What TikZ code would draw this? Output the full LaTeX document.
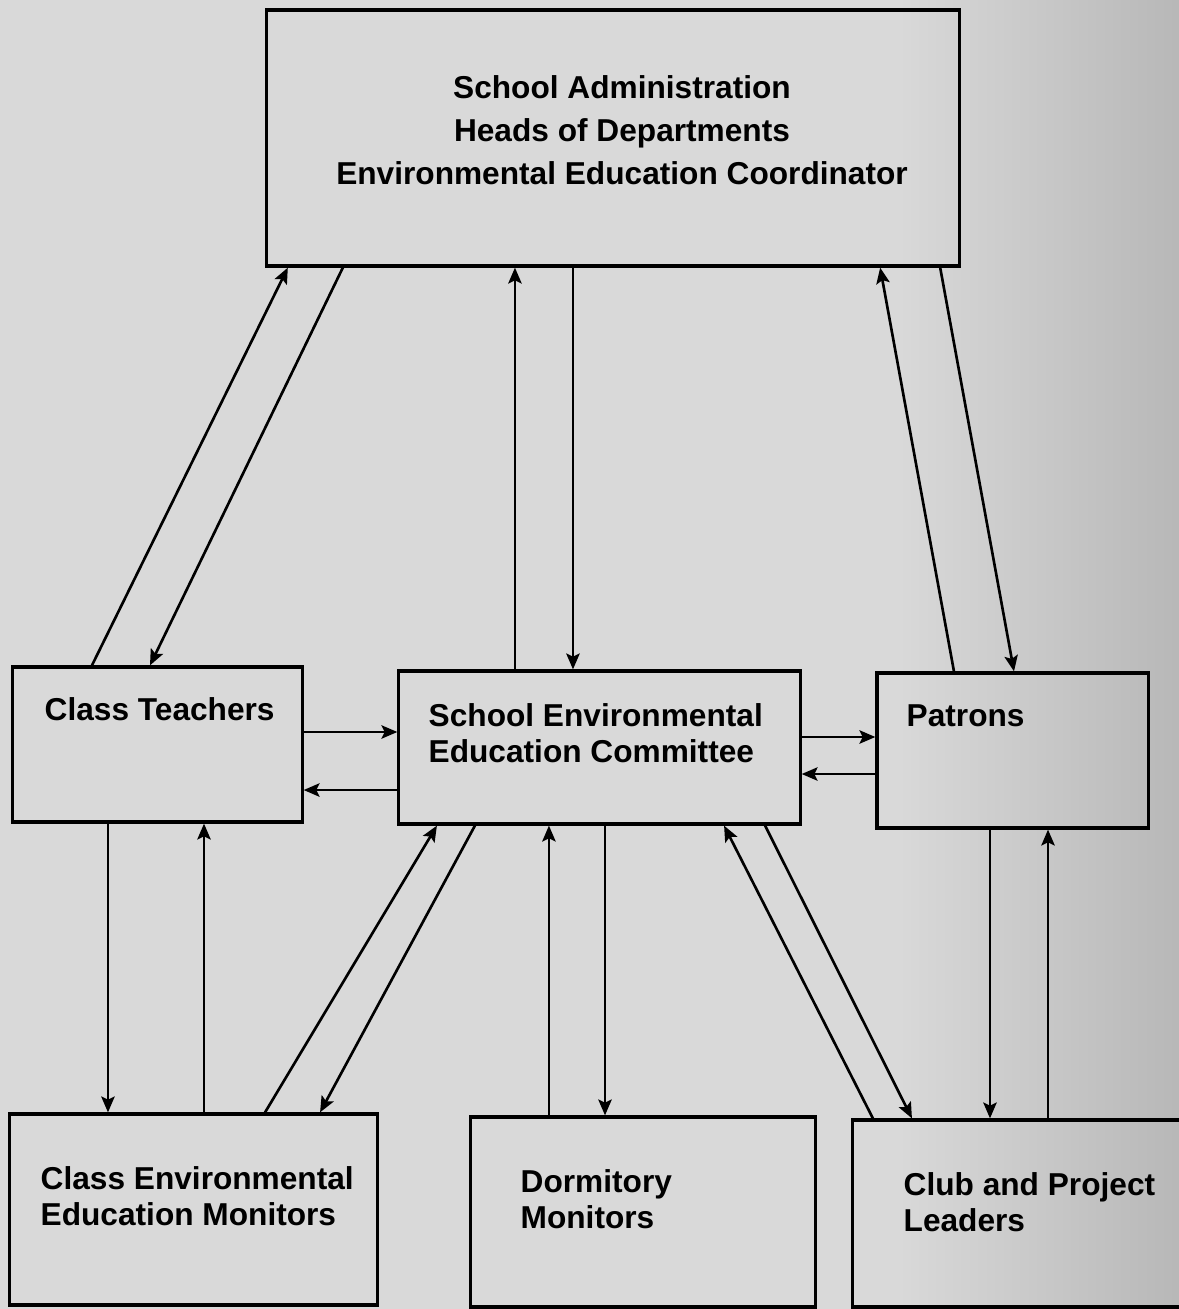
\documentclass[tikz,border=0pt]{standalone}
\usepackage{fontspec}
\setmainfont{Liberation Sans}
\usetikzlibrary{arrows.meta}
\definecolor{paper}{gray}{0.85}
\definecolor{paperdark}{gray}{0.72}
\begin{document}
\begin{tikzpicture}[
    x=0.01cm, y=-0.01cm,
    box/.style={rectangle, draw=black, line width=0.9pt, inner sep=0pt},
    txt/.style={font=\bfseries\fontsize{9}{10.4}\selectfont, inner sep=0pt, align=left, anchor=west},
    arr/.style={->, >={Stealth[length=4.5pt, width=3.8pt, inset=0.9pt]}, line width=0.75pt}
]
    \useasboundingbox (0,0) rectangle (1179,1309);
    \clip (0,0) rectangle (1179,1309);
    % Paper
    \fill[paper] (0,0) rectangle (1179,1309);
    \shade[left color=paper, right color=paperdark] (900,0) rectangle (1179,1309);

    % Boxes
    \node[box, minimum width=6.92cm, minimum height=2.56cm] (admin) at (613,138) {};
    \node[box, minimum width=2.89cm, minimum height=1.55cm] (teach) at (157.5,744.5) {};
    \node[box, minimum width=4.01cm, minimum height=1.53cm] (seec) at (599.5,747.5) {};
    \node[box, minimum width=2.71cm, minimum height=1.55cm] (patr) at (1012.5,750.5) {};
    \node[box, minimum width=3.67cm, minimum height=1.91cm] (cmon) at (193.5,1209.5) {};
    \node[box, minimum width=3.44cm, minimum height=1.90cm] (dorm) at (643,1212) {};
    \node[box, minimum width=3.47cm, minimum height=1.87cm] (club) at (1026.5,1213.5) {};

    % Texts
    \node[txt, align=center, anchor=center, font=\bfseries\fontsize{9}{12.3}\selectfont] (admintxt) at (622,130)
        {School Administration\\Heads of Departments\\Environmental Education Coordinator};
    \node[txt] (teachtxt) at (44,709) {Class Teachers};
    \node[txt] (seectxt) at (428,733) {School Environmental\\Education Committee};
    \node[txt] (patrtxt) at (906,716) {Patrons};
    \node[txt] (cmontxt) at (40,1196) {Class Environmental\\Education Monitors};
    \node[txt] (dormtxt) at (520,1199) {Dormitory\\Monitors};
    \node[txt] (clubtxt) at (903,1202) {Club and Project\\Leaders};

    % Arrows to and from the administration
    \draw[arr] ([xshift=-0.655cm]teach.north) -- ([xshift=-3.25cm]admin.south);
    \draw[arr] ([xshift=-2.70cm]admin.south) -- ([xshift=-0.075cm]teach.north);
    \draw[arr] ([xshift=-0.845cm]seec.north) -- ([xshift=-0.845cm]seec.north |- admin.south);
    \draw[arr] ([xshift=-0.40cm]admin.south) -- ([xshift=-0.40cm]admin.south |- seec.north);
    \draw[arr] ([xshift=-0.585cm]patr.north) -- ([xshift=2.67cm]admin.south);
    \draw[arr] ([xshift=3.27cm]admin.south) -- ([xshift=0.015cm]patr.north);

    % Arrows in the middle row
    \draw[arr] ([yshift=0.125cm]teach.east) -- ([yshift=0.125cm]teach.east -| seec.west);
    \draw[arr] ([yshift=-0.425cm]seec.west) -- ([yshift=-0.425cm]seec.west -| teach.east);
    \draw[arr] ([yshift=0.105cm]seec.east) -- ([yshift=0.105cm]seec.east -| patr.west);
    \draw[arr] ([yshift=-0.235cm]patr.west) -- ([yshift=-0.235cm]patr.west -| seec.east);

    % Arrows to and from the bottom row
    \draw[arr] ([xshift=-0.495cm]teach.south) -- ([xshift=-0.495cm]teach.south |- cmon.north);
    \draw[arr] ([xshift=0.105cm]cmon.north) -- ([xshift=0.105cm]cmon.north |- teach.south);
    \draw[arr] ([xshift=0.715cm]cmon.north) -- ([xshift=-1.625cm]seec.south);
    \draw[arr] ([xshift=-1.245cm]seec.south) -- ([xshift=1.265cm]cmon.north);
    \draw[arr] ([xshift=-0.94cm]dorm.north) -- ([xshift=-0.94cm]dorm.north |- seec.south);
    \draw[arr] ([xshift=0.055cm]seec.south) -- ([xshift=0.055cm]seec.south |- dorm.north);
    \draw[arr] ([xshift=-1.535cm]club.north) -- ([xshift=1.245cm]seec.south);
    \draw[arr] ([xshift=1.655cm]seec.south) -- ([xshift=-1.145cm]club.north);
    \draw[arr] ([xshift=-0.225cm]patr.south) -- ([xshift=-0.225cm]patr.south |- club.north);
    \draw[arr] ([xshift=0.215cm]club.north) -- ([xshift=0.215cm]club.north |- patr.south);
\end{tikzpicture}
\end{document}
